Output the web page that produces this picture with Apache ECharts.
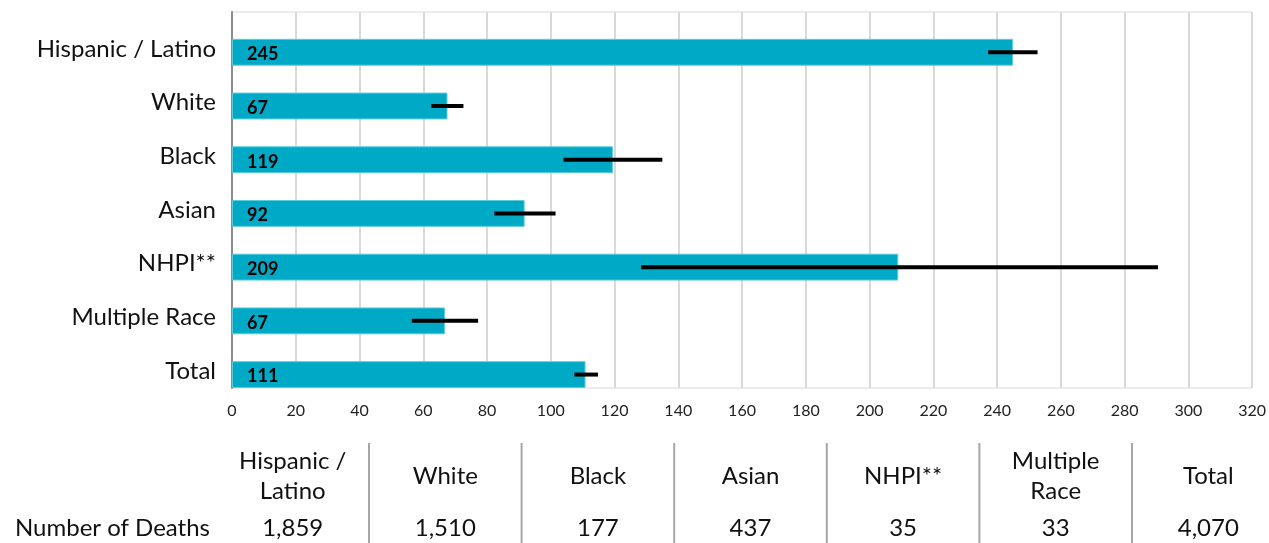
<!DOCTYPE html>
<html>
<head>
<meta charset="utf-8">
<script src="https://cdn.jsdelivr.net/npm/echarts@6/dist/echarts.min.js"></script>
<style>
html,body{margin:0;padding:0;background:#fff;}
#chart{width:1269px;height:543px;}
</style>
</head>
<body>
<div id="chart"></div>
<script>
// ---- data ----
var categories = ['Hispanic / Latino', 'White', 'Black', 'Asian', 'NHPI**', 'Multiple Race', 'Total'];
var rates = [245, 67.6, 119.5, 91.8, 209, 66.8, 110.9];
var rateLabels = ['245', '67', '119', '92', '209', '67', '111'];
var errLow = [237.2, 62.5, 104.0, 82.3, 128.3, 56.4, 107.4];
var errHigh = [252.7, 72.6, 135.0, 101.5, 290.5, 77.2, 114.8];
var xTicks = [0, 20, 40, 60, 80, 100, 120, 140, 160, 180, 200, 220, 240, 260, 280, 300, 320];
var tableHeaders = ['Hispanic /\nLatino', 'White', 'Black', 'Asian', 'NHPI**', 'Multiple\nRace', 'Total'];
var tableRowLabel = 'Number of Deaths';
var deaths = ['1,859', '1,510', '177', '437', '35', '33', '4,070'];

var FONT = 'Lato';
var chart = echarts.init(document.getElementById('chart'));

// table graphics (layout only)
var colStart = 216.4, colW = 152.6;
var graphics = [];
for (var i = 0; i < tableHeaders.length; i++) {
  var cx = colStart + colW * (i + 0.5);
  graphics.push({
    type: 'text', x: cx, y: 476,
    style: { text: tableHeaders[i], fill: '#111', font: '24px ' + FONT, textAlign: 'center', textVerticalAlign: 'middle', lineHeight: 30 }
  });
  graphics.push({
    type: 'text', x: cx, y: 528,
    style: { text: deaths[i], fill: '#111', font: '24px ' + FONT, textAlign: 'center', textVerticalAlign: 'middle' }
  });
  if (i > 0) {
    var lx = colStart + colW * i;
    graphics.push({
      type: 'line', shape: { x1: lx, y1: 443, x2: lx, y2: 543 },
      style: { stroke: '#a6a6a6', lineWidth: 2 }
    });
  }
}
graphics.push({
  type: 'text', x: 210, y: 528,
  style: { text: tableRowLabel, fill: '#111', font: '24px ' + FONT, textAlign: 'right', textVerticalAlign: 'middle' }
});

var option = {
  animation: false,
  backgroundColor: '#fff',
  grid: { left: 232, right: 15, top: 12, bottom: 155, show: true, borderColor: '#d9d9d9', borderWidth: 1 },
  xAxis: {
    type: 'value', min: xTicks[0], max: xTicks[xTicks.length - 1], interval: 20,
    axisLine: { show: false }, axisTick: { show: false },
    splitLine: { show: true, lineStyle: { color: '#d9d9d9', width: 2 } },
    axisLabel: { fontFamily: FONT, fontSize: 16, color: '#222', margin: 15 }
  },
  yAxis: {
    type: 'category', data: categories, inverse: true,
    axisLine: { show: true, lineStyle: { color: '#8c8c8c', width: 2 } },
    axisTick: { show: false },
    axisLabel: { fontFamily: FONT, fontSize: 24, color: '#111', margin: 16, verticalAlign: 'top', lineHeight: 20 }
  },
  series: [
    { type: 'bar', name: 'spacer', data: [], barGap: '0%', barCategoryGap: '0%', silent: true },
    {
      type: 'bar', name: 'rate', data: rates, barGap: '0%', barCategoryGap: '0%',
      itemStyle: { color: '#00AAC6', borderColor: '#5ccbdc', borderWidth: 1 },
      label: {
        show: true, position: 'insideLeft', distance: 15, offset: [0, 2],
        formatter: function (p) { return rateLabels[p.dataIndex]; },
        fontFamily: FONT, fontWeight: 'bold', fontSize: 18, color: '#000'
      },
      z: 2
    },
    {
      type: 'custom', name: 'err',
      data: errLow.map(function (v, i) { return [i, v, errHigh[i]]; }),
      encode: { y: 0, x: [1, 2] },
      renderItem: function (params, api) {
        var idx = api.value(0);
        var p1 = api.coord([api.value(1), idx]);
        var p2 = api.coord([api.value(2), idx]);
        var band = api.size([0, 1])[1];
        var y = p1[1] + band / 4;
        return {
          type: 'line',
          shape: { x1: p1[0], y1: y, x2: p2[0], y2: y },
          style: { stroke: '#000', lineWidth: 4 }
        };
      },
      z: 5
    }
  ],
  graphic: graphics
};
chart.setOption(option);
</script>
</body>
</html>
